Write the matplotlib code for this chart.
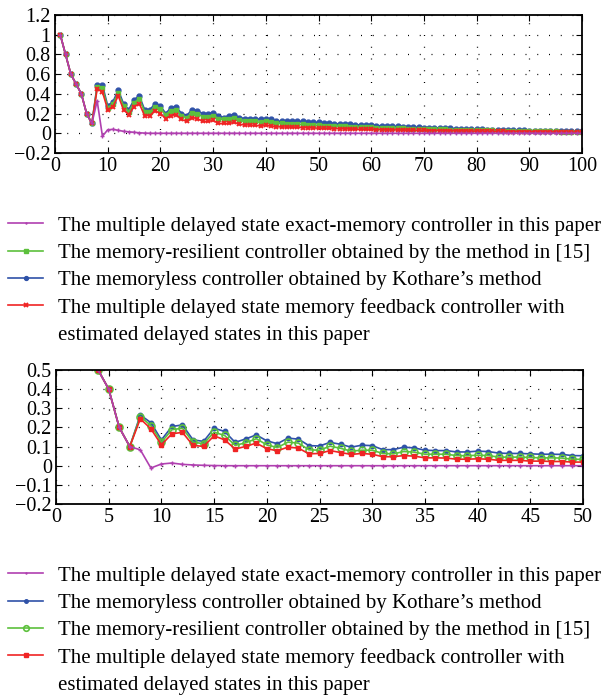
import matplotlib
matplotlib.use("Agg")
import matplotlib.pyplot as plt
from matplotlib.lines import Line2D
from matplotlib.ticker import FuncFormatter, MultipleLocator

plt.rcParams['font.family'] = ['Liberation Serif', 'DejaVu Serif']

# ---- data, upper plot (k = 1..100) ----
k_top = list(range(1, 101))

exact_top = [1.0, 0.8, 0.6, 0.5, 0.4, 0.2, 0.1, 0.33, -0.03, 0.035,
             0.04, 0.03, 0.02, 0.015, 0.01, 0.005, 0.002, 0.0, 0.0, 0.0] + [0.0] * 80

memoryless_top = [1.0, 0.8, 0.6, 0.5, 0.4, 0.2, 0.1, 0.49, 0.49, 0.28,
                  0.32, 0.44, 0.30, 0.24, 0.34, 0.38, 0.24, 0.24, 0.30, 0.28,
                  0.20, 0.26, 0.27, 0.20, 0.18, 0.24, 0.23, 0.20, 0.20, 0.21,
                  0.18, 0.16, 0.18, 0.19, 0.16, 0.15, 0.15, 0.15, 0.14, 0.15,
                  0.14, 0.12, 0.12, 0.12, 0.12, 0.12, 0.12, 0.115, 0.11, 0.11,
                  0.10, 0.10, 0.095, 0.095, 0.09, 0.09, 0.085, 0.085, 0.08, 0.08,
                  0.078, 0.075, 0.072, 0.07, 0.07, 0.068, 0.065, 0.062, 0.06, 0.058,
                  0.057, 0.055, 0.053, 0.05, 0.05, 0.048, 0.046, 0.044, 0.042, 0.04,
                  0.039, 0.037, 0.036, 0.035, 0.033, 0.032, 0.031, 0.03, 0.029, 0.028,
                  0.027, 0.026, 0.025, 0.024, 0.023, 0.022, 0.022, 0.021, 0.02, 0.02]

resilient_top = [1.0, 0.8, 0.6, 0.5, 0.4, 0.2, 0.1, 0.47, 0.46, 0.26,
                 0.30, 0.41, 0.28, 0.22, 0.31, 0.35, 0.22, 0.22, 0.27, 0.25,
                 0.19, 0.23, 0.24, 0.18, 0.16, 0.21, 0.20, 0.17, 0.17, 0.18,
                 0.15, 0.14, 0.15, 0.16, 0.13, 0.12, 0.12, 0.12, 0.11, 0.12,
                 0.11, 0.10, 0.10, 0.095, 0.095, 0.09, 0.09, 0.088, 0.085, 0.08,
                 0.078, 0.076, 0.074, 0.072, 0.07, 0.068, 0.066, 0.064, 0.062, 0.06,
                 0.058, 0.056, 0.055, 0.053, 0.052, 0.05, 0.048, 0.047, 0.046, 0.044,
                 0.043, 0.042, 0.04, 0.039, 0.038, 0.037, 0.036, 0.034, 0.033, 0.032,
                 0.031, 0.03, 0.029, 0.028, 0.027, 0.026, 0.025, 0.024, 0.023, 0.022,
                 0.022, 0.021, 0.02, 0.02, 0.019, 0.018, 0.018, 0.017, 0.017, 0.016]

estimated_top = [1.0, 0.8, 0.6, 0.5, 0.4, 0.2, 0.1, 0.45, 0.42, 0.24,
                 0.27, 0.38, 0.24, 0.19, 0.27, 0.30, 0.18, 0.18, 0.23, 0.20,
                 0.15, 0.18, 0.19, 0.14, 0.12, 0.16, 0.15, 0.12, 0.12, 0.13,
                 0.10, 0.10, 0.10, 0.11, 0.09, 0.085, 0.085, 0.08, 0.075, 0.08,
                 0.075, 0.065, 0.065, 0.063, 0.062, 0.06, 0.058, 0.056, 0.054, 0.052,
                 0.05, 0.049, 0.048, 0.046, 0.045, 0.044, 0.042, 0.041, 0.04, 0.039,
                 0.038, 0.037, 0.036, 0.035, 0.034, 0.033, 0.032, 0.031, 0.03, 0.029,
                 0.028, 0.027, 0.027, 0.026, 0.025, 0.024, 0.024, 0.023, 0.022, 0.022,
                 0.021, 0.02, 0.02, 0.019, 0.019, 0.018, 0.018, 0.017, 0.017, 0.016,
                 0.016, 0.015, 0.015, 0.014, 0.014, 0.014, 0.013, 0.013, 0.012, 0.012]

# ---- data, lower plot (k = 1..50) ----
k_bot = list(range(1, 51))

exact_bot = [1.0, 0.8, 0.6, 0.5, 0.4, 0.2, 0.1, 0.083, -0.012, 0.009,
             0.014, 0.007, 0.004, 0.002, 0.001] + [0.0] * 35

memoryless_bot = [1.0, 0.8, 0.6, 0.5, 0.4, 0.2, 0.1, 0.265, 0.225, 0.135,
                  0.205, 0.213, 0.135, 0.127, 0.196, 0.179, 0.122, 0.14, 0.161, 0.13,
                  0.115, 0.144, 0.139, 0.105, 0.103, 0.122, 0.112, 0.097, 0.107, 0.105,
                  0.084, 0.084, 0.097, 0.093, 0.081, 0.079, 0.079, 0.072, 0.072, 0.076,
                  0.074, 0.066, 0.064, 0.064, 0.062, 0.06, 0.06, 0.059, 0.053, 0.052]

resilient_bot = [1.0, 0.8, 0.6, 0.5, 0.4, 0.2, 0.1, 0.257, 0.21, 0.123,
                 0.188, 0.196, 0.123, 0.115, 0.175, 0.158, 0.106, 0.12, 0.141, 0.109,
                 0.095, 0.123, 0.118, 0.083, 0.081, 0.102, 0.091, 0.076, 0.081, 0.081,
                 0.064, 0.062, 0.074, 0.071, 0.06, 0.06, 0.06, 0.053, 0.052, 0.055,
                 0.053, 0.045, 0.045, 0.045, 0.043, 0.041, 0.041, 0.04, 0.034, 0.033]

estimated_bot = [1.0, 0.8, 0.6, 0.5, 0.4, 0.2, 0.1, 0.245, 0.193, 0.109,
                 0.167, 0.174, 0.106, 0.101, 0.156, 0.135, 0.087, 0.101, 0.118, 0.089,
                 0.078, 0.097, 0.092, 0.062, 0.064, 0.079, 0.069, 0.059, 0.064, 0.06,
                 0.047, 0.047, 0.053, 0.05, 0.041, 0.041, 0.04, 0.034, 0.034, 0.036,
                 0.034, 0.028, 0.028, 0.028, 0.024, 0.024, 0.022, 0.022, 0.019, 0.019]

lab_exact = "The multiple delayed state exact-memory controller in this paper"
lab_resilient = "The memory-resilient controller obtained by the method in [15]"
lab_memoryless = "The memoryless controller obtained by Kothare\u2019s method"
lab_est1 = "The multiple delayed state memory feedback controller with"
lab_est2 = "estimated delayed states in this paper"

purple = "#b040b0"
green = "#5cc03c"
blue = "#2f52a8"
red = "#f02424"


def fmt(v, pos):
    s = "%g" % round(v, 3)
    return s.replace("-", "\u2212")


def style_axes(ax, xmax, xstep, ymin, ymax, ystep):
    ax.set_xlim(0, xmax)
    ax.set_ylim(ymin, ymax)
    ax.xaxis.set_major_locator(MultipleLocator(xstep))
    ax.yaxis.set_major_locator(MultipleLocator(ystep))
    ax.yaxis.set_major_formatter(FuncFormatter(fmt))
    ax.tick_params(direction="in", top=True, right=True, length=4,
                   width=0.8, labelsize=14.5, pad=3)
    ax.grid(True, color="black", linestyle=(0, (0.8, 8.6)), linewidth=0.9)
    for sp in ax.spines.values():
        sp.set_linewidth(1.3)


fig = plt.figure(figsize=(6.09, 6.97), dpi=100)

# upper plot
ax1 = fig.add_axes([55 / 609, 1 - 153 / 697, 527 / 609, 138 / 697])
l_mless, = ax1.plot(k_top, memoryless_top, color=blue, lw=1.2, marker="o", ms=3.5)
l_res, = ax1.plot(k_top, resilient_top, color=green, lw=1.2, marker="s", ms=3.2)
l_est, = ax1.plot(k_top, estimated_top, color=red, lw=1.2, marker="x", ms=3.5, mew=1.4)
l_ex, = ax1.plot(k_top, exact_top, color=purple, lw=1.2, marker="+", ms=2.5)
style_axes(ax1, 100, 10, -0.2, 1.2, 0.2)

blank = Line2D([], [], color="none")
fig.legend([l_ex, l_res, l_mless, l_est, blank],
           [lab_exact, lab_resilient, lab_memoryless, lab_est1, lab_est2],
           loc="upper left", bbox_to_anchor=(8 / 609, 1 - 216 / 697),
           frameon=False, fontsize=15, handlelength=1.7, handletextpad=0.72,
           labelspacing=0.37, borderpad=0, borderaxespad=0, markerscale=0.8)

# lower plot
ax2 = fig.add_axes([56 / 609, 1 - 504 / 697, 527 / 609, 134 / 697])
m_mless, = ax2.plot(k_bot, memoryless_bot, color=blue, lw=1.2, marker="o", ms=3.2)
m_res, = ax2.plot(k_bot, resilient_bot, color=green, lw=1.2, marker="o", ms=5,
                  mfc="none", mew=1.2)
m_est, = ax2.plot(k_bot, estimated_bot, color=red, lw=1.2, marker="s", ms=3)
m_ex, = ax2.plot(k_bot, exact_bot, color=purple, lw=1.2, marker="+", ms=2.5)
style_axes(ax2, 50, 5, -0.2, 0.5, 0.1)

fig.legend([m_ex, m_mless, m_res, m_est, blank],
           [lab_exact, lab_memoryless, lab_resilient, lab_est1, lab_est2],
           loc="upper left", bbox_to_anchor=(8 / 609, 1 - 566 / 697),
           frameon=False, fontsize=15, handlelength=1.7, handletextpad=0.72,
           labelspacing=0.37, borderpad=0, borderaxespad=0, markerscale=0.8)

fig.savefig("out.png", dpi=100)
